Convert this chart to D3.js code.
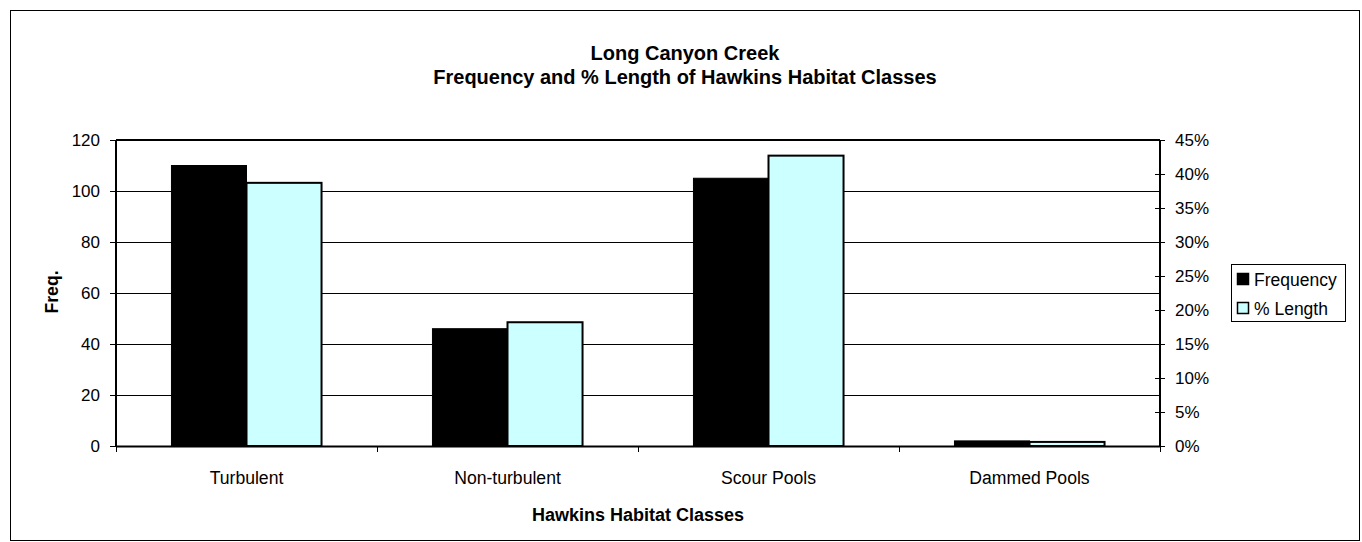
<!DOCTYPE html>
<html><head><meta charset="utf-8">
<script src="https://cdn.jsdelivr.net/npm/d3@7"></script>
<style>body{margin:0;background:#fff;}svg{display:block;font-family:"Liberation Sans",Arial,sans-serif;}</style>
</head><body>
<svg id="c" width="1362" height="542"></svg>
<script>
const categories = ["Turbulent", "Non-turbulent", "Scour Pools", "Dammed Pools"];
const frequency = [110, 46, 105, 2];
const pctLength = [0.387, 0.182, 0.427, 0.006];
const leftTicks = [0, 20, 40, 60, 80, 100, 120];
const rightTicks = [0, 0.05, 0.10, 0.15, 0.20, 0.25, 0.30, 0.35, 0.40, 0.45];
const seriesNames = ["Frequency", "% Length"];
const seriesColors = ["#000000", "#ccffff"];

const svg = d3.select("#c");
const L = 116, R = 1160, T = 140, B = 446;
const FONT = '"Liberation Sans",Arial,sans-serif';

svg.append("rect").attr("x", 10.5).attr("y", 10.5).attr("width", 1349).attr("height", 530)
  .attr("fill", "#fff").attr("stroke", "#000").attr("stroke-width", 1);

const x = d3.scaleBand().domain(categories).range([L, R]).paddingInner(0.425).paddingOuter(0.2125);
const xs = d3.scaleBand().domain([0, 1]).range([0, x.bandwidth()]);
const yL = d3.scaleLinear().domain([0, 120]).range([B, T]);
const yR = d3.scaleLinear().domain([0, 0.45]).range([B, T]);

// gridlines
svg.append("g").selectAll("line").data(leftTicks.filter(d => d > 0)).join("line")
  .attr("x1", L).attr("x2", R).attr("y1", d => Math.round(yL(d)) + 0.5).attr("y2", d => Math.round(yL(d)) + 0.5)
  .attr("stroke", "#000").attr("stroke-width", 1);

// bars
const data = categories.map((c, i) => ({c, v: [frequency[i], pctLength[i]]}));
const g = svg.append("g");
data.forEach(d => {
  g.append("rect").attr("x", x(d.c) + xs(0)).attr("width", xs.bandwidth())
    .attr("y", yL(d.v[0])).attr("height", B - yL(d.v[0]))
    .attr("fill", seriesColors[0]).attr("stroke", "#000").attr("stroke-width", 1);
  g.append("rect").attr("x", x(d.c) + xs(1)).attr("width", xs.bandwidth())
    .attr("y", yR(d.v[1])).attr("height", B - yR(d.v[1]))
    .attr("fill", seriesColors[1]).attr("stroke", "#000").attr("stroke-width", 2);
});

// left axis
const la = svg.append("g").attr("transform", `translate(${L},0)`)
  .call(d3.axisLeft(yL).tickValues(leftTicks).tickSize(6).tickPadding(10));
la.selectAll("text").attr("font-size", 17);
// right axis
const ra = svg.append("g").attr("transform", `translate(${R},0)`)
  .call(d3.axisRight(yR).tickValues(rightTicks).tickFormat(d3.format(".0%")).tickSize(5).tickPadding(10));
ra.selectAll(".tick line").attr("x1", -5);
ra.selectAll("text").attr("font-size", 17);
// bottom axis
const ba = svg.append("g").attr("transform", `translate(0,${B})`)
  .call(d3.axisBottom(x).tickSize(0).tickPadding(26));
ba.select(".domain").remove();
ba.selectAll("text").attr("font-size", 17.6);
svg.append("line").attr("x1", L).attr("x2", R).attr("y1", B + 0.5).attr("y2", B + 0.5).attr("stroke", "#000").attr("stroke-width", 2);
const bounds = categories.map(c => x(c) - x.step() * x.paddingInner() / 2).concat([R]);
svg.append("g").selectAll("line").data(bounds).join("line")
  .attr("x1", d => Math.round(d) + 0.5).attr("x2", d => Math.round(d) + 0.5).attr("y1", B).attr("y2", B + 6)
  .attr("stroke", "#000");

[la, ra, ba].forEach(a => {
  a.selectAll("text").attr("fill", "#000").attr("font-family", FONT);
  a.select(".domain").attr("stroke-width", 2).attr("stroke", "#000");
});
la.select(".domain").attr("d", `M0,${T}V${B}`);
ra.select(".domain").attr("d", `M0,${T}V${B}`);
svg.append("line").attr("x1", L).attr("x2", R).attr("y1", T).attr("y2", T).attr("stroke", "#000").attr("stroke-width", 2);

// titles
svg.append("text").attr("x", 685).attr("y", 60).attr("text-anchor", "middle").attr("font-weight", "bold").attr("font-size", 20).text("Long Canyon Creek");
svg.append("text").attr("x", 685).attr("y", 84).attr("text-anchor", "middle").attr("font-weight", "bold").attr("font-size", 20).text("Frequency and % Length of Hawkins Habitat Classes");
svg.append("text").attr("x", 638).attr("y", 521).attr("text-anchor", "middle").attr("font-weight", "bold").attr("font-size", 18).text("Hawkins Habitat Classes");
svg.append("text").attr("transform", "translate(58,292) rotate(-90)").attr("text-anchor", "middle").attr("font-weight", "bold").attr("font-size", 17.6).text("Freq.");

// legend
const lg = svg.append("g").attr("transform", "translate(1231,264)");
lg.append("rect").attr("x", 0.5).attr("y", 0.5).attr("width", 114).attr("height", 57).attr("fill", "#fff").attr("stroke", "#000");
seriesNames.forEach((n, i) => {
  lg.append("rect").attr("x", 6.5).attr("y", 9.5 + i * 29).attr("width", 11).attr("height", 11)
    .attr("fill", seriesColors[i]).attr("stroke", "#000").attr("stroke-width", 1.5);
  lg.append("text").attr("x", 23).attr("y", 21.5 + i * 29).attr("font-size", 17.5).text(n);
});
</script>
</body></html>
